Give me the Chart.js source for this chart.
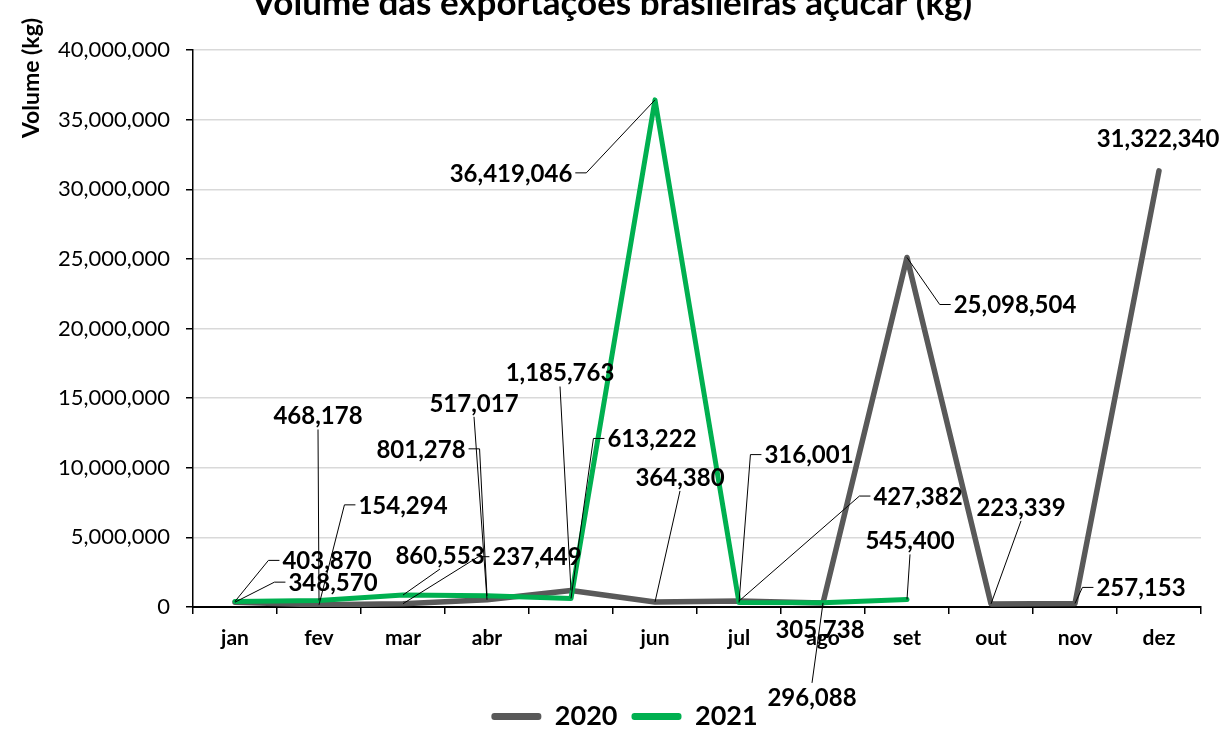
<!DOCTYPE html>
<html>
<head>
<meta charset="utf-8">
<script src="https://cdn.jsdelivr.net/npm/chart.js@4.4.1/dist/chart.umd.min.js"></script>
<style>
html,body{margin:0;padding:0;background:#fff;}
#wrap{width:1229px;height:729px;position:relative;}
</style>
</head>
<body>
<div id="wrap"><canvas id="acucarChart"></canvas></div>
<script>
const meses = ['jan','fev','mar','abr','mai','jun','jul','ago','set','out','nov','dez'];
const volume2020 = [348570, 154294, 237449, 517017, 1185763, 364380, 427382, 296088, 25098504, 223339, 257153, 31322340];
const volume2021 = [403870, 468178, 860553, 801278, 613222, 36419046, 316001, 305738, 545400, null, null, null];
const yTicks = [0, 5000000, 10000000, 15000000, 20000000, 25000000, 30000000, 35000000, 40000000];

// where each value label sits: offset of text centre from its point (px), leader line yes/no
const rotulos2020 = [[98,-20,1],[84,-100,1],[134,-47,1],[-13,-197,1],[-11,-218,1],[25,-125,1],[179,-105,1],[-11,94,1],[108,47,1],[30,-97,1],[66,-16,1],[-1,-33,0]];
const rotulos2021 = [[92,-41,1],[-1,-185,1],[37,-40,1],[-66,-147,1],[81,-160,1],[-144,73,1],[70,-148,1],[-3,27,0],[3,-59,1]];

const FONTE = 'Lato, "Open Sans", sans-serif';
const fmt = v => v.toLocaleString('en-US');

const rotulosPlugin = {
	id: 'rotulos',
	afterLayout(chart) {
		// excel puts the legend a bit right of centre and lower
		const lg = chart.legend;
		lg.left += 24; lg.right += 24;
		lg.top += 11; lg.bottom += 11;
	},
	afterDatasetsDraw(chart) {
		const ctx = chart.ctx;
		const offs = [rotulos2020, rotulos2021];
		ctx.save();
		ctx.font = 'bold 24px ' + FONTE;
		ctx.textAlign = 'center';
		ctx.textBaseline = 'middle';
		chart.data.datasets.forEach((ds, di) => {
			const meta = chart.getDatasetMeta(di);
			meta.data.forEach((pt, i) => {
				const v = ds.data[i];
				if (v == null || !offs[di][i]) return;
				const [dx, dy, lead] = offs[di][i];
				const txt = fmt(v);
				const cx = pt.x + dx, cy = pt.y + dy;
				const w = ctx.measureText(txt).width;
				const box = {l: cx - w/2, r: cx + w/2, t: cy - 10, b: cy + 10};
				if (lead) {
					ctx.beginPath();
					ctx.strokeStyle = '#000';
					ctx.lineWidth = 1;
					if (pt.x >= box.l && pt.x <= box.r) {
						ctx.moveTo(pt.x, pt.y);
						ctx.lineTo(cx, pt.y > box.b ? box.b + 4 : box.t - 4);
					} else {
						const side = pt.x < box.l ? -1 : 1;
						const edge = side < 0 ? box.l : box.r;
						ctx.moveTo(pt.x, pt.y);
						ctx.lineTo(edge + side*14, cy);
						ctx.lineTo(edge + side*3, cy);
					}
					ctx.stroke();
				}
				ctx.fillStyle = '#000';
				ctx.fillText(txt, cx, cy + 1);
			});
		});
		ctx.restore();
	},
	afterDraw(chart) {
		const ctx = chart.ctx;
		ctx.save();
		ctx.fillStyle = '#000';
		ctx.font = 'bold 35px ' + FONTE;
		ctx.textAlign = 'center';
		ctx.textBaseline = 'alphabetic';
		ctx.fillText('Volume das exportações brasileiras açúcar (kg)', 612, 15);
		ctx.translate(32, 78);
		ctx.rotate(-Math.PI/2);
		ctx.font = 'bold 23px ' + FONTE;
		ctx.textBaseline = 'middle';
		ctx.fillText('Volume (kg)', 0, 0);
		ctx.restore();
	}
};

const ctx = document.getElementById('acucarChart').getContext('2d');
const myChart = new Chart(ctx, {
	type: 'line',
	data: {
		labels: meses,
		datasets: [{
			label: '2020',
			data: volume2020,
			borderColor: '#595959',
			backgroundColor: '#595959',
			borderWidth: 5.5,
			pointRadius: 0,
			tension: 0,
			borderJoinStyle: 'round',
			borderCapStyle: 'round',
			order: 1
		}, {
			label: '2021',
			data: volume2021,
			borderColor: '#00b050',
			backgroundColor: '#00b050',
			borderWidth: 5,
			pointRadius: 0,
			tension: 0,
			borderJoinStyle: 'round',
			borderCapStyle: 'round',
			order: 0
		}]
	},
	options: {
		responsive: true,
		maintainAspectRatio: false,
		animation: false,
		layout: { padding: { top: 50, right: 28, left: 0, bottom: 0 } },
		plugins: {
			title: { display: false },
			tooltip: { enabled: false },
			legend: {
				position: 'bottom',
				labels: {
					color: '#000',
					font: { family: FONTE, size: 27, weight: 'bold' },
					boxWidth: 50,
					boxHeight: 7,
					padding: 14,
					useBorderRadius: true,
					generateLabels: chart => chart.data.datasets.map((ds, i) => ({
						text: ds.label,
						fillStyle: ds.borderColor,
						strokeStyle: ds.borderColor,
						lineWidth: 0,
						borderRadius: 3,
						datasetIndex: i,
						hidden: false
					}))
				}
			}
		},
		scales: {
			x: {
				offset: true,
				grid: { offset: true, drawOnChartArea: false, tickColor: '#000', tickLength: 7, lineWidth: 1.5 },
				border: { color: '#000', width: 2 },
				ticks: { color: '#000', font: { family: FONTE, size: 21, weight: 'bold' }, padding: 12, maxRotation: 0 },
				afterFit: s => { s.height = 122 - s.chart.legend.height; }
			},
			y: {
				min: 0,
				max: 40000000,
				afterBuildTicks: s => { s.ticks = yTicks.map(v => ({ value: v })); },
				grid: { color: '#d9d9d9', lineWidth: 1.5, tickColor: '#000', tickLength: 7 },
				border: { color: '#000', width: 1.5 },
				ticks: { color: '#000', font: { family: FONTE, size: 22 }, padding: 16, callback: v => fmt(v) },
				afterFit: s => { s.width = 193; }
			}
		}
	},
	plugins: [rotulosPlugin]
});
</script>
</body>
</html>
